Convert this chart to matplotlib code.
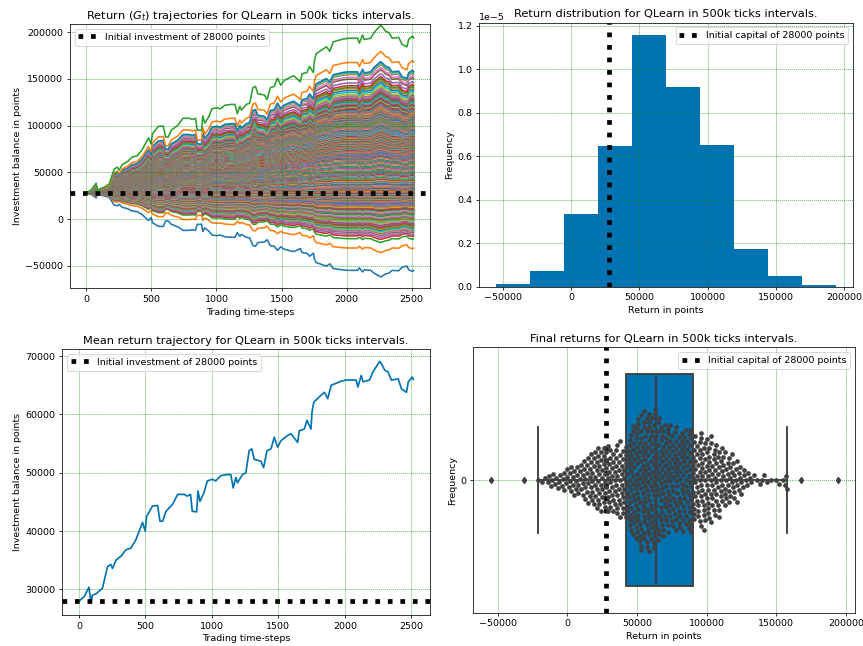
import numpy as np
import matplotlib
matplotlib.use('Agg')
import matplotlib.pyplot as plt
import seaborn as sns

initial = 28000

# final returns: number of runs ending at each thousand points, from -55k to 194k
first_k = -55
runs_per_k = [
    1, 0, 0, 0, 0, 0, 0, 0, 0, 0,      # -55 .. -46
    0, 0, 0, 0, 0, 0, 0, 0, 0, 0,      # -45 .. -36
    0, 0, 0, 0, 1, 0, 0, 0, 0, 0,      # -35 .. -26
    0, 0, 0, 0, 1, 0, 0, 1, 0, 1,      # -25 .. -16
    0, 1, 1, 1, 1, 1, 1, 1, 1, 1,      # -15 .. -6
    1, 1, 1, 2, 1, 2, 1, 2, 2, 2,      # -5 .. 4
    2, 2, 2, 2, 2, 2, 3, 2, 3, 3,      # 5 .. 14
    3, 3, 3, 4, 3, 4, 4, 4, 4, 4,      # 15 .. 24
    4, 4, 4, 4, 4, 4, 4, 4, 4, 4,      # 25 .. 34
    4, 5, 4, 5, 4, 5, 4, 5, 4, 5,      # 35 .. 44
    7, 7, 7, 7, 7, 7, 8, 8, 8, 8,      # 45 .. 54
    8, 8, 8, 8, 8, 8, 8, 8, 8, 8,      # 55 .. 64
    7, 7, 7, 7, 6, 7, 7, 7, 6, 6,      # 65 .. 74
    6, 6, 6, 6, 6, 6, 6, 6, 6, 6,      # 75 .. 84
    6, 6, 6, 6, 6, 6, 5, 5, 5, 5,      # 85 .. 94
    6, 5, 6, 5, 6, 5, 5, 5, 5, 5,      # 95 .. 104
    4, 4, 5, 4, 4, 4, 4, 3, 4, 3,      # 105 .. 114
    3, 3, 3, 3, 2, 3, 2, 3, 2, 2,      # 115 .. 124
    2, 1, 2, 1, 1, 1, 1, 1, 0, 1,      # 125 .. 134
    0, 1, 0, 1, 0, 1, 1, 0, 1, 0,      # 135 .. 144
    0, 1, 0, 0, 0, 1, 0, 1, 0, 0,      # 145 .. 154
    1, 1, 1, 1, 0, 0, 0, 0, 0, 0,      # 155 .. 164
    0, 0, 0, 1, 0, 0, 0, 0, 0, 0,      # 165 .. 174
    0, 0, 0, 0, 0, 0, 0, 0, 0, 0,      # 175 .. 184
    0, 0, 0, 0, 0, 0, 0, 0, 0, 1,      # 185 .. 194
]

# mean return trajectory (time-step, points)
mean_steps = [0, 40, 75, 90, 100, 130, 176, 214, 239, 252, 277, 320, 352, 390, 427,
              466, 478, 498, 508, 553, 591, 609, 629, 654, 704, 742, 792, 814, 839, 852,
              885, 895, 910, 940, 965, 1003, 1028, 1066, 1116, 1142, 1160, 1180, 1192,
              1230, 1255, 1280, 1300, 1318, 1368, 1389, 1414, 1444, 1469, 1494, 1519,
              1570, 1595, 1645, 1657, 1695, 1715, 1745, 1753, 1766, 1821, 1846, 1871,
              1897, 1972, 2010, 2085, 2098, 2123, 2136, 2186, 2211, 2262, 2275, 2300,
              2325, 2350, 2401, 2426, 2464, 2477, 2507, 2515]
mean_return = [28000, 28800, 30400, 27700, 29000, 29300, 30200, 33900, 34300, 33600,
               35000, 35800, 36800, 37100, 38500, 40800, 41500, 40000, 42500, 44300,
               44400, 41700, 41700, 43400, 44600, 46300, 46300, 46000, 46300, 43400,
               43300, 46900, 45100, 46600, 48600, 48900, 48600, 49500, 49700, 49700,
               47400, 49200, 48300, 49700, 50000, 53800, 54100, 52300, 52000, 50900,
               53800, 54100, 56100, 54400, 55500, 56400, 56700, 55200, 57200, 57500,
               59000, 57500, 60400, 62100, 63300, 63800, 62700, 65000, 65700, 65900,
               65900, 64700, 66700, 65600, 65900, 67300, 69100, 68700, 67600, 67300,
               65900, 66100, 64400, 63800, 65600, 66400, 66000]

levels_k = np.arange(first_k, first_k + len(runs_per_k))
final_returns = np.repeat(levels_k, runs_per_k) * 1000
mean_arr = np.array(mean_return)

# each run's path follows the mean path, stretched to end at its final return
scale = (final_returns - initial) / (mean_arr[-1] - initial)
trajectories = initial + np.outer(scale, mean_arr - initial)

blue = '#0173b2'
plt.rcParams['axes.axisbelow'] = False

fig = plt.figure(figsize=(863 / 68, 646 / 68), dpi=68)
ax1 = fig.add_axes([0.0811, 0.5537, 0.4171, 0.4087])
ax2 = fig.add_axes([0.5554, 0.5562, 0.4327, 0.4087])
ax3 = fig.add_axes([0.0722, 0.0480, 0.4261, 0.4113])
ax4 = fig.add_axes([0.5484, 0.0515, 0.4423, 0.4108])

dots = dict(color='k', linestyle=':', linewidth=5)
title_size = 12

# trajectories
ax1.plot(mean_steps, trajectories.T, linewidth=1.7)
ax1.axhline(initial, label='Initial investment of 28000 points', **dots)
ax1.set_ylim(-74000, 208500)
ax1.set_title(r'Return ($G_t$) trajectories for QLearn in 500k ticks intervals.',
              fontsize=title_size)
ax1.set_xlabel('Trading time-steps')
ax1.set_ylabel('Investment balance in points')
ax1.legend(loc='upper left')

# histogram
ax2.hist(final_returns, bins=10, density=True, color=blue)
ax2.axvline(initial, label='Initial capital of 28000 points', **dots)
ax2.set_title('Return distribution for QLearn in 500k ticks intervals.', fontsize=title_size)
ax2.set_xlabel('Return in points')
ax2.set_ylabel('Frequency')
ax2.legend(loc='upper right')

# mean trajectory
ax3.plot(mean_steps, mean_return, color=blue, linewidth=1.8)
ax3.axhline(initial, label='Initial investment of 28000 points', **dots)
ax3.set_title('Mean return trajectory for QLearn in 500k ticks intervals.', fontsize=title_size)
ax3.set_xlabel('Trading time-steps')
ax3.set_ylabel('Investment balance in points')
ax3.legend(loc='upper left')

# box + swarm
gray = '#3f3f3f'
ax4.boxplot(final_returns, orientation='horizontal', positions=[0], widths=0.8,
            patch_artist=True,
            boxprops=dict(facecolor=blue, edgecolor=gray, linewidth=2),
            medianprops=dict(color=gray, linewidth=2),
            whiskerprops=dict(color=gray, linewidth=2),
            capprops=dict(color=gray, linewidth=2),
            flierprops=dict(marker='d', markerfacecolor=gray, markeredgecolor=gray,
                            markersize=5))
sns.swarmplot(x=final_returns, color='.25', size=5, ax=ax4, zorder=3)
ax4.axvline(initial, label='Initial capital of 28000 points', **dots)
ax4.set_ylim(0.5, -0.5)
ax4.set_yticks([0])
ax4.set_yticklabels(['0'])
ax4.set_title('Final returns for QLearn in 500k ticks intervals.', fontsize=title_size)
ax4.set_xlabel('Return in points')
ax4.set_ylabel('Frequency')
ax4.legend(loc='upper right')

for ax in (ax1, ax2, ax3, ax4):
    ax.grid(color='g', linestyle=':', linewidth=0.8)

fig.savefig('out.png', dpi=68)
